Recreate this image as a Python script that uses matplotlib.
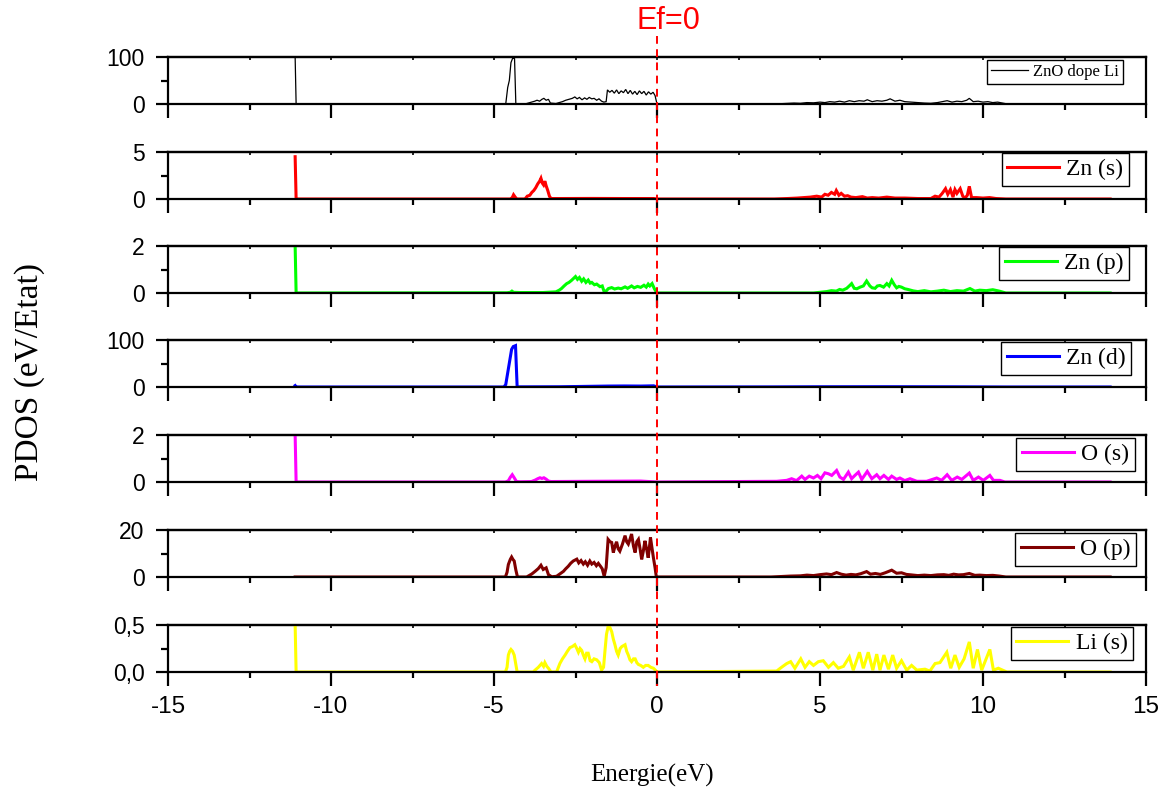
import matplotlib
matplotlib.use("Agg")
import matplotlib.pyplot as plt
from matplotlib.ticker import MultipleLocator, FixedLocator
from matplotlib.lines import Line2D

plt.rcParams["axes.unicode_minus"] = False

# Energie de depart / fin des courbes (eV)
e_start = -11.1
e_end = 13.9

# --- ZnO dope Li (total) ---
tot_spike = 100
tot_ve = [-4.8, -4.64, -4.58, -4.53, -4.48, -4.43, -4.37, -4.33, -4.05, -3.95, -3.85, -3.75, -3.68, -3.6,
          -3.53, -3.47, -3.4, -3.33, -3.27, -3.1, -3.0, -2.9, -2.8, -2.7, -2.6, -2.52, -2.45, -2.38, -2.3,
          -2.22, -2.15, -2.08, -2.0, -1.93, -1.85, -1.78, -1.7, -1.63, -1.56, -1.52, -1.45, -1.38, -1.31,
          -1.24, -1.17, -1.1, -1.03, -0.96, -0.89, -0.82, -0.75, -0.68, -0.61, -0.54, -0.47, -0.4, -0.33,
          -0.26, -0.19, -0.12, -0.06, 0.0]
tot_vv = [0, 0, 35, 50, 88, 97, 97, 0, 0, 2, 4, 6, 8, 6, 10, 12, 8, 10, 2, 1, 3, 5, 8, 10, 12, 15, 11, 14,
          9, 13, 10, 14, 11, 12, 8, 11, 6, 4, 5, 30, 25, 29, 23, 30, 22, 28, 24, 31, 22, 29, 21, 27, 20, 28,
          22, 27, 19, 26, 21, 25, 18, 0]
tot_ce = [3.6, 3.9, 4.2, 4.4, 4.6, 4.8, 5.0, 5.15, 5.3, 5.45, 5.6, 5.75, 5.9, 6.05, 6.2, 6.35, 6.45, 6.6,
          6.75, 6.9, 7.05, 7.15, 7.3, 7.45, 7.6, 7.8, 8.0, 8.2, 8.4, 8.6, 8.75, 8.9, 9.05, 9.2, 9.35, 9.5,
          9.58, 9.7, 9.85, 10.0, 10.15, 10.3, 10.45, 10.6, 10.75]
tot_cv = [0, 1, 2, 1.5, 3, 2.5, 4, 3, 5, 4, 6, 4, 7, 5, 7, 6, 9, 5, 7, 6, 8, 11, 6, 8, 5, 4, 3, 2, 1.5, 3,
          5, 7, 4, 6, 5, 8, 12, 5, 6, 4, 5, 3, 4, 2, 0]

# --- Zn (s) ---
zns_spike = 4.5
zns_ve = [-4.5, -4.44, -4.4, -4.35, -4.3, -4.05, -3.98, -3.9, -3.84, -3.78, -3.72, -3.66, -3.6, -3.56,
          -3.52, -3.48, -3.44, -3.4, -3.35, -3.3, -3.25, -3.0, -2.0, -1.0, -0.1, 0.0]
zns_vv = [0, 0.15, 0.45, 0.2, 0, 0, 0.3, 0.4, 0.7, 0.9, 1.2, 1.6, 1.9, 2.2, 1.7, 1.5, 1.9, 1.4, 0.9, 0.3,
          0.05, 0.05, 0.06, 0.05, 0.05, 0]
zns_ce = [3.6, 4.0, 4.3, 4.5, 4.7, 4.9, 5.05, 5.15, 5.25, 5.35, 5.45, 5.5, 5.58, 5.65, 5.75, 5.85, 5.95,
          6.1, 6.3, 6.45, 6.6, 6.8, 7.05, 7.3, 7.6, 8.0, 8.4, 8.53, 8.65, 8.75, 8.85, 8.92, 9.0, 9.08, 9.14,
          9.2, 9.3, 9.38, 9.45, 9.52, 9.58, 9.65, 9.8, 10.0, 10.2, 10.4, 10.7]
zns_cv = [0, 0.05, 0.1, 0.15, 0.2, 0.3, 0.2, 0.5, 0.4, 0.7, 0.5, 0.9, 0.4, 0.6, 0.3, 0.35, 0.2, 0.15, 0.25,
          0.1, 0.15, 0.1, 0.2, 0.1, 0.1, 0.05, 0.05, 0.3, 0.2, 0.6, 1.1, 0.5, 1.0, 0.2, 1.0, 0.6, 1.1, 0.3,
          0.1, 0.4, 1.35, 0.15, 0.15, 0.1, 0.15, 0.05, 0]

# --- Zn (p) ---
znp_spike = 2.0
znp_ve = [-4.6, -4.5, -4.45, -4.4, -4.2, -3.5, -3.1, -3.0, -2.93, -2.85, -2.77, -2.7, -2.62, -2.56, -2.5,
          -2.44, -2.38, -2.31, -2.25, -2.18, -2.11, -2.05, -2.0, -1.92, -1.85, -1.75, -1.68, -1.62, -1.55,
          -1.49, -1.39, -1.3, -1.19, -1.1, -0.98, -0.9, -0.78, -0.7, -0.6, -0.5, -0.4, -0.33, -0.27, -0.22,
          -0.15, -0.08, 0.0]
znp_vv = [0.01, 0.03, 0.08, 0.03, 0.02, 0.02, 0.05, 0.12, 0.19, 0.3, 0.4, 0.45, 0.54, 0.62, 0.7, 0.58,
          0.66, 0.5, 0.6, 0.45, 0.55, 0.42, 0.45, 0.35, 0.38, 0.27, 0.3, 0.05, 0.1, 0.19, 0.23, 0.17, 0.21,
          0.18, 0.26, 0.2, 0.3, 0.22, 0.28, 0.24, 0.33, 0.25, 0.38, 0.3, 0.4, 0.18, 0]
znp_ce = [4.8, 5.0, 5.2, 5.35, 5.5, 5.6, 5.7, 5.82, 5.92, 5.97, 6.05, 6.13, 6.23, 6.33, 6.43, 6.53, 6.6,
          6.69, 6.76, 6.84, 6.95, 7.05, 7.12, 7.2, 7.28, 7.35, 7.42, 7.5, 7.6, 7.7, 7.86, 8.0, 8.2, 8.4, 8.6,
          8.8, 9.0, 9.2, 9.4, 9.6, 9.75, 9.9, 10.1, 10.3, 10.5, 10.7]
znp_cv = [0, 0.03, 0.06, 0.1, 0.08, 0.15, 0.12, 0.2, 0.33, 0.4, 0.2, 0.18, 0.25, 0.3, 0.51, 0.3, 0.22, 0.2,
          0.3, 0.32, 0.25, 0.4, 0.3, 0.54, 0.35, 0.22, 0.28, 0.25, 0.18, 0.15, 0.09, 0.06, 0.1, 0.05, 0.08,
          0.12, 0.06, 0.1, 0.08, 0.19, 0.08, 0.12, 0.1, 0.14, 0.08, 0]

# --- Zn (d) ---
znd_spike = 3
znd_ve = [-4.7, -4.64, -4.58, -4.52, -4.46, -4.41, -4.34, -4.29, -4.2, -3.0, -2.0, -1.5, -1.0, -0.5, -0.1, 0.0]
znd_vv = [0, 5, 30, 55, 80, 86, 88, 0, 0.3, 0.5, 1.5, 2, 2.2, 2, 2.5, 0]
znd_ce = [3.6, 5.0, 7.0, 9.0, 10.7]
znd_cv = [0.2, 0.5, 0.6, 0.4, 0]

# --- O (s) ---
os_spike = 2.0
os_ve = [-4.65, -4.56, -4.5, -4.44, -4.38, -4.31, -4.2, -3.85, -3.74, -3.66, -3.59, -3.53, -3.47, -3.4,
         -3.33, -3.25, -2.0, -0.5, 0.0]
os_vv = [0, 0.05, 0.2, 0.31, 0.18, 0.02, 0.01, 0.02, 0.08, 0.14, 0.18, 0.15, 0.18, 0.12, 0.04, 0.02, 0.03,
         0.04, 0]
os_ce = [3.67, 3.98, 4.13, 4.28, 4.44, 4.54, 4.67, 4.8, 4.92, 5.03, 5.15, 5.26, 5.36, 5.51, 5.61, 5.72,
         5.87, 5.97, 6.07, 6.18, 6.28, 6.45, 6.59, 6.74, 6.84, 6.96, 7.1, 7.2, 7.35, 7.45, 7.6, 7.76, 7.97,
         8.27, 8.58, 8.73, 8.9, 9.04, 9.21, 9.35, 9.58, 9.7, 9.86, 10.01, 10.21, 10.32, 10.52, 10.67]
os_cv = [0.03, 0.07, 0.14, 0.06, 0.25, 0.11, 0.25, 0.17, 0.28, 0.14, 0.39, 0.35, 0.28, 0.49, 0.21, 0.11,
         0.42, 0.14, 0.28, 0.42, 0.11, 0.45, 0.14, 0.31, 0.14, 0.28, 0.11, 0.25, 0.11, 0.17, 0.06, 0.14,
         0.03, 0.03, 0.17, 0.07, 0.31, 0.07, 0.21, 0.11, 0.38, 0.07, 0.21, 0.07, 0.28, 0.07, 0.07, 0]

# --- O (p) ---
op_spike = 0
op_ve = [-4.65, -4.6, -4.56, -4.5, -4.46, -4.42, -4.38, -4.33, -4.28, -4.0, -3.9, -3.84, -3.74, -3.64,
         -3.56, -3.49, -3.4, -3.33, -3.23, -3.08, -2.98, -2.87, -2.8, -2.72, -2.65, -2.57, -2.46, -2.4,
         -2.33, -2.26, -2.2, -2.13, -2.06, -2.0, -1.93, -1.86, -1.8, -1.73, -1.68, -1.62, -1.56, -1.5,
         -1.44, -1.39, -1.34, -1.29, -1.24, -1.19, -1.14, -1.06, -0.98, -0.93, -0.88, -0.83, -0.78, -0.72,
         -0.67, -0.62, -0.57, -0.52, -0.47, -0.42, -0.37, -0.32, -0.27, -0.23, -0.2, -0.15, -0.11, -0.06,
         -0.02]
op_vv = [0, 2, 5.3, 7.5, 8.5, 7.5, 6.8, 3, 0, 0, 0.8, 1.3, 2.4, 3.6, 5, 3.2, 3.9, 1, 0.1, 0.3, 1.3, 2.4,
         3.5, 4.6, 5.8, 6.8, 7.6, 6, 7, 5.5, 6.5, 5, 6.8, 5.5, 6.2, 4.8, 5.8, 4.5, 3.5, 0.3, 4, 16, 15,
         14.7, 10.4, 13, 15, 12, 11, 14, 17.6, 15, 14, 16, 18.3, 13, 10.4, 15, 16, 12, 7.5, 11, 15.4, 12,
         8.2, 13, 16.8, 12, 8.2, 4, 0]
op_ce = [3.5, 3.8, 4.1, 4.4, 4.6, 4.8, 5.0, 5.2, 5.35, 5.51, 5.65, 5.8, 5.95, 6.1, 6.25, 6.43, 6.55, 6.7,
         6.85, 7.0, 7.2, 7.35, 7.5, 7.65, 7.8, 8.0, 8.2, 8.4, 8.6, 8.8, 8.95, 9.1, 9.25, 9.4, 9.58, 9.75,
         9.9, 10.1, 10.3, 10.5, 10.7]
op_cv = [0, 0.2, 0.4, 0.5, 0.8, 0.6, 1.0, 1.3, 1.0, 1.9, 1.2, 0.8, 1.1, 0.9, 1.4, 2.3, 1.2, 1.5, 1.1, 1.8,
         2.9, 1.6, 1.8, 1.1, 0.9, 0.6, 0.8, 0.6, 0.9, 1.0, 0.7, 1.2, 0.9, 1.0, 1.5, 0.7, 0.8, 0.6, 0.7,
         0.4, 0]

# --- Li (s) ---
li_spike = 0.5
li_ve = [-4.65, -4.6, -4.56, -4.52, -4.48, -4.43, -4.38, -4.33, -4.29, -3.8, -3.74, -3.64, -3.54, -3.48,
         -3.44, -3.38, -3.33, -3.25, -3.08, -2.98, -2.9, -2.82, -2.75, -2.67, -2.6, -2.52, -2.46, -2.41,
         -2.36, -2.31, -2.26, -2.21, -2.16, -2.11, -2.05, -2.0, -1.93, -1.85, -1.77, -1.7, -1.64, -1.6,
         -1.55, -1.49, -1.44, -1.39, -1.34, -1.29, -1.24, -1.19, -1.13, -1.08, -0.98, -0.93, -0.88, -0.83,
         -0.78, -0.72, -0.67, -0.62, -0.57, -0.5, -0.42, -0.35, -0.27, -0.19, -0.11, -0.05, 0.0]
li_vv = [0, 0.05, 0.18, 0.22, 0.24, 0.22, 0.18, 0.08, 0, 0, 0.02, 0.05, 0.09, 0.06, 0.1, 0.06, 0.04, 0, 0,
         0.09, 0.14, 0.18, 0.22, 0.26, 0.27, 0.29, 0.25, 0.21, 0.25, 0.23, 0.18, 0.14, 0.2, 0.2, 0.12,
         0.11, 0.14, 0.13, 0.1, 0.02, 0.05, 0.21, 0.4, 0.5, 0.47, 0.43, 0.35, 0.29, 0.22, 0.18, 0.25, 0.27,
         0.29, 0.22, 0.18, 0.13, 0.11, 0.14, 0.14, 0.1, 0.08, 0.07, 0.05, 0.07, 0.07, 0.05, 0.04, 0.02, 0]
li_ce = [3.67, 3.82, 3.98, 4.1, 4.23, 4.41, 4.54, 4.67, 4.8, 4.95, 5.1, 5.26, 5.41, 5.56, 5.72, 5.9, 6.02,
         6.21, 6.33, 6.48, 6.62, 6.74, 6.84, 6.96, 7.1, 7.23, 7.35, 7.5, 7.66, 7.81, 7.97, 8.22, 8.37,
         8.53, 8.68, 8.89, 9.01, 9.14, 9.27, 9.42, 9.58, 9.7, 9.83, 9.96, 10.21, 10.32, 10.47, 10.6, 10.73]
li_cv = [0.01, 0.05, 0.09, 0.11, 0.04, 0.14, 0.05, 0.11, 0.07, 0.11, 0.12, 0.05, 0.1, 0.04, 0.06, 0.16,
         0.02, 0.21, 0.04, 0.21, 0.02, 0.19, 0.02, 0.18, 0.03, 0.18, 0.04, 0.12, 0.02, 0.07, 0.02, 0.03,
         0.01, 0.09, 0.1, 0.21, 0.04, 0.18, 0.05, 0.14, 0.32, 0.04, 0.24, 0.02, 0.24, 0.02, 0.04, 0.02, 0]

labels = ["ZnO dope Li", "Zn (s)", "Zn (p)", "Zn (d)", "O (s)", "O (p)", "Li (s)"]
ymax = [100, 5, 2, 100, 2, 20, 0.5]
ytick_labels = [["0", "100"], ["0", "5"], ["0", "2"], ["0", "100"], ["0", "2"], ["0", "20"], ["0,0", "0,5"]]


def courbe(spike, e_val, v_val, e_con, v_con):
    e = [e_start, e_start + 0.03] + e_val + e_con + [e_end]
    v = [spike, 0] + v_val + v_con + [0]
    return e, v


series = [
    courbe(tot_spike, tot_ve, tot_vv, tot_ce, tot_cv),
    courbe(zns_spike, zns_ve, zns_vv, zns_ce, zns_cv),
    courbe(znp_spike, znp_ve, znp_vv, znp_ce, znp_cv),
    courbe(znd_spike, znd_ve, znd_vv, znd_ce, znd_cv),
    courbe(os_spike, os_ve, os_vv, os_ce, os_cv),
    courbe(op_spike, op_ve, op_vv, op_ce, op_cv),
    courbe(li_spike, li_ve, li_vv, li_ce, li_cv),
]

couleurs = ["black", "#FF0000", "#00FF00", "#0000FF", "#FF00FF", "#800000", "#FFFF00"]
epaisseurs = [0.9, 2.2, 2.2, 2.2, 2.2, 2.2, 2.2]

# position des panneaux (pixels dans l'image 1169x791)
W, H = 1169, 791
haut_px = [57, 152, 246, 340, 435, 530, 625]
h_px = 47
gauche_px, droite_px = 168, 1146

# position des legendes (coin haut-droit, coordonnees axes)
leg_pos = [(0.976, 0.94), (0.983, 0.98), (0.983, 0.98), (0.985, 0.96), (0.989, 0.94), (0.99, 0.94), (0.987, 0.96)]
leg_taille = [12, 17, 17, 17, 17, 17, 17]

police_chiffres = "Liberation Sans"
police_texte = "Liberation Serif"

fig = plt.figure(figsize=(W / 100, H / 100), dpi=100)

axes = []
for i in range(7):
    rect = [gauche_px / W, 1 - (haut_px[i] + h_px) / H, (droite_px - gauche_px) / W, h_px / H]
    ax = fig.add_axes(rect)
    e, v = series[i]
    ax.plot(e, v, color=couleurs[i], lw=epaisseurs[i], label=labels[i], solid_joinstyle="miter")
    ax.set_xlim(-15, 15)
    ax.set_ylim(0, ymax[i])

    for s in ax.spines.values():
        s.set_linewidth(1.6)

    ax.xaxis.set_major_locator(MultipleLocator(5))
    ax.xaxis.set_minor_locator(MultipleLocator(2.5))
    ax.yaxis.set_major_locator(FixedLocator([0, ymax[i]]))
    ax.yaxis.set_minor_locator(FixedLocator([ymax[i] / 2]))
    ax.set_yticklabels(ytick_labels[i], fontfamily=police_chiffres, fontsize=16.5)

    ax.tick_params(axis="x", which="major", direction="out", length=10, width=1.6, pad=7,
                   labelsize=17.5, labelbottom=(i == 6))
    ax.tick_params(axis="x", which="minor", direction="out", length=4.5, width=1.6)
    ax.tick_params(axis="y", which="major", direction="out", length=9, width=1.6, pad=8)
    ax.tick_params(axis="y", which="minor", direction="out", length=5, width=1.6)
    for t in ax.get_xticklabels():
        t.set_fontfamily(police_chiffres)

    # petites graduations vers l'interieur en haut
    sec = ax.secondary_xaxis("top")
    sec.xaxis.set_major_locator(MultipleLocator(2.5))
    sec.tick_params(direction="in", length=2.5, width=1.2, labeltop=False)
    sec.spines["top"].set_linewidth(1.6)

    leg = ax.legend(loc="upper right", bbox_to_anchor=leg_pos[i], borderaxespad=0,
                    prop={"family": police_texte, "size": leg_taille[i]},
                    frameon=True, fancybox=False, framealpha=1, edgecolor="black",
                    handlelength=2.2, handletextpad=0.3, borderpad=0.25)
    leg.get_frame().set_linewidth(1.0)
    axes.append(ax)

# ligne de Fermi (tiretes rouges sur tous les panneaux)
x0 = gauche_px / W + (0 + 15) / 30 * (droite_px - gauche_px) / W
fig.add_artist(Line2D([x0, x0], [1 - 36 / H, 1 - 686 / H], transform=fig.transFigure,
                      color="#FF0000", lw=1.4, linestyle=(0, (4, 2.8))))
fig.text(668 / W, 1 - 21 / H, "Ef=0", color="#FF0000", fontsize=22, fontfamily=police_chiffres,
         ha="center", va="center")

fig.text(30 / W, 1 - 372 / H, "PDOS (eV/Etat)", rotation=90, fontsize=24, fontfamily=police_texte,
         ha="center", va="center")
fig.text(652 / W, 1 - 775 / H, "Energie(eV)", fontsize=18, fontfamily=police_texte,
         ha="center", va="center")

fig.savefig("out.png", dpi=100)
